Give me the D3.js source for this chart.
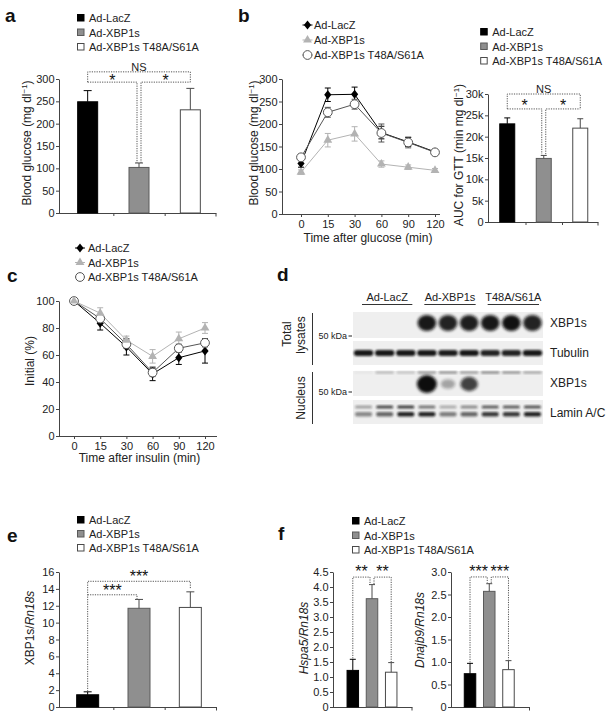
<!DOCTYPE html>
<html><head><meta charset="utf-8">
<script src="https://cdn.jsdelivr.net/npm/d3@7"></script>
<style>body{margin:0;background:#fff}</style></head><body>
<script>
// ---------------- DATA ----------------
const groups = ["Ad-LacZ", "Ad-XBP1s", "Ad-XBP1s T48A/S61A"];
// a: fasting blood glucose
const aMean = [249, 102, 231];
const aErr  = [25, 10, 48];
const aTicks = [0, 50, 100, 150, 200, 250, 300];
// b: GTT
const gttTimes = [0, 15, 30, 60, 90, 120];
const gttLacZ    = [112, 265, 266, 181, 160, 138];
const gttLacZErr = [8, 15, 16, 14, 10, 5];
const gttXbp     = [93, 164, 178, 111, 104, 97];
const gttXbpErr  = [5, 15, 16, 7, 5, 4];
const gttMut     = [126, 226, 244, 180, 159, 137];
const gttMutErr  = [5, 11, 11, 20, 12, 4];
const gttTicks = [0, 50, 100, 150, 200, 250, 300];
// b: AUC
const aucMean = [23000, 14900, 22000];
const aucErr  = [1400, 700, 2200];
const aucTicks = [0, 5000, 10000, 15000, 20000, 25000, 30000];
// c: ITT
const ittTimes = [0, 15, 30, 60, 90, 120];
const ittLacZ    = [100, 83.5, 66, 46, 58, 63];
const ittLacZErr = [0, 5, 6, 5, 5, 9];
const ittXbp     = [100, 91, 71, 59, 72, 80];
const ittXbpErr  = [0, 4, 3, 5, 5, 4];
const ittMut     = [100, 87, 68, 47, 65, 69];
const ittMutErr  = [0, 3, 3, 3, 3, 3];
const ittTicks = [0, 20, 40, 60, 80, 100];
// d: western blot (band intensities per lane)
const blotGroups = ["Ad-LacZ", "Ad-XBP1s", "T48A/S61A"];
const blotRowLabels = ["XBP1s", "Tubulin", "XBP1s", "Lamin A/C"];
const xbp1sTotal  = [0, 0, 0, 0.95, 0.9, 0.92, 0.95, 0.98, 0.9];
const tubulin     = [0.95, 0.95, 0.95, 0.95, 0.93, 0.95, 0.9, 0.9, 0.95];
const xbp1sNuc    = [0, 0, 0, 1, 0.3, 0.7, 0, 0, 0];
const nucTopBand  = [0.05, 0.3, 0.25, 0.45, 0.5, 0.45, 0.55, 0.5, 0.4];
const laminUpper  = [0.35, 0.75, 0.8, 0.55, 0.3, 0.45, 0.65, 0.65, 0.7];
const laminLower  = [0.45, 0.6, 0.9, 0.9, 0.5, 0.6, 0.8, 0.8, 0.9];
// e: XBP1s mRNA
const eMean = [1.45, 11.7, 11.8];
const eErr  = [0.35, 1.05, 1.85];
const eTicks = [0, 2, 4, 6, 8, 10, 12, 14, 16];
// f: target genes
const hspaMean = [1.22, 3.61, 1.16];
const hspaErr  = [0.37, 0.47, 0.32];
const hspaTicks = [0, 0.5, 1, 1.5, 2, 2.5, 3, 3.5, 4, 4.5];
const dnajMean = [0.74, 2.57, 0.83];
const dnajErr  = [0.23, 0.17, 0.2];
const dnajTicks = [0, 0.5, 1, 1.5, 2, 2.5, 3];

// ---------------- STYLE ----------------
const FONT = '"Liberation Sans", Arial, Helvetica, sans-serif';
const AX = "#444";
const barFill = ["#000000", "#8f8f8f", "#ffffff"];
const barStroke = ["#000000", "#5a5a5a", "#4a4a4a"];
const errColor = ["#000000", "#4a4a4a", "#4a4a4a"];
const BR = "#555";

const svg = d3.select("body").append("svg")
  .attr("width", 612).attr("height", 716)
  .style("font-family", FONT);

const defs = svg.append("defs");
[["b1", 0.8], ["b2", 1.6]].forEach(([id, s]) => {
  defs.append("filter").attr("id", id)
    .attr("x", "-50%").attr("y", "-50%").attr("width", "200%").attr("height", "200%")
    .append("feGaussianBlur").attr("stdDeviation", s);
});

function styleAxis(g) {
  g.attr("font-family", FONT).attr("font-size", 11);
  g.selectAll("path,line").attr("stroke", AX).attr("stroke-width", 1);
  g.selectAll("text").attr("fill", "#222");
}
function letter(t, x, y) {
  svg.append("text").attr("x", x).attr("y", y).attr("font-size", 19)
    .attr("font-weight", "bold").attr("fill", "#111").text(t);
}
function squareLegend(x, y0, dy) {
  const g = svg.append("g");
  groups.forEach((name, i) => {
    g.append("rect").attr("x", x - 3).attr("y", y0 + i * dy - 3.5)
      .attr("width", 6.5).attr("height", 6.5)
      .attr("fill", barFill[i]).attr("stroke", barStroke[i]);
    g.append("text").attr("x", x + 8.5).attr("y", y0 + i * dy + 4)
      .attr("font-size", 11).attr("fill", "#222").text(name);
  });
}
function yTitle(parts, cx, cy) {
  const t = svg.append("text")
    .attr("transform", `translate(${cx + 3.5},${cy}) rotate(-90)`)
    .attr("text-anchor", "middle").attr("font-size", 12).attr("fill", "#222");
  parts.forEach(p => {
    const s = t.append("tspan").text(p.t);
    if (p.i) s.attr("font-style", "italic");
    if (p.sup) s.attr("baseline-shift", "super").attr("font-size", 8);
  });
}

function barChart(o) {
  const y = d3.scaleLinear().domain(o.domain).range([o.yBottom, o.yTop]);
  const x = d3.scaleBand().domain(d3.range(o.means.length)).range(o.band);
  const cx = i => x(i) + x.bandwidth() / 2;
  const g = svg.append("g");
  const ya = g.append("g").attr("transform", `translate(${o.axisX},0)`)
    .call(d3.axisLeft(y).tickValues(o.ticks).tickFormat(o.fmt)
      .tickSize(3).tickPadding(1.5).tickSizeOuter(0));
  styleAxis(ya);
  const xs = d3.scaleLinear().domain([0, o.means.length]).range(o.band);
  const xa = g.append("g").attr("transform", `translate(0,${y(0)})`)
    .call(d3.axisBottom(xs).tickValues(o.xTicks).tickFormat("").tickSize(3).tickSizeOuter(0));
  xa.select(".domain").attr("d", `M${o.axisX},0.5H${o.axisEnd}`);
  xa.append("line").attr("x1", o.axisEnd - 0.5).attr("x2", o.axisEnd - 0.5)
    .attr("y1", 0.5).attr("y2", 3.5);
  styleAxis(xa);
  // bars
  g.selectAll("rect.bar").data(o.means).join("rect").attr("class", "bar")
    .attr("x", (d, i) => cx(i) - o.barW / 2).attr("y", d => y(d))
    .attr("width", o.barW).attr("height", d => y(0) - y(d))
    .attr("fill", (d, i) => barFill[i]).attr("stroke", (d, i) => barStroke[i]);
  // error bars
  o.means.forEach((m, i) => {
    const top = y(m + o.errs[i]);
    g.append("line").attr("x1", cx(i)).attr("x2", cx(i)).attr("y1", y(m)).attr("y2", top)
      .attr("stroke", errColor[i]);
    g.append("line").attr("x1", cx(i) - o.cap / 2).attr("x2", cx(i) + o.cap / 2)
      .attr("y1", top).attr("y2", top).attr("stroke", errColor[i]);
  });
  // significance brackets
  o.brackets.forEach(b => {
    const xi = cx(b.i) + (b.i === 1 ? 2 : 0);
    const xj = cx(b.j) - (b.j === 1 ? 2 : 0);
    const yt = y(b.top);
    g.append("path")
      .attr("d", `M${xi},${y(b.legI)}V${yt}H${xj}V${y(b.legJ)}`)
      .attr("fill", "none").attr("stroke", BR).attr("stroke-width", 1)
      .attr("stroke-dasharray", "1.2,1.2");
    const lx = (xi + xj) / 2;
    if (b.label === "NS") {
      g.append("text").attr("x", lx).attr("y", yt - 1).attr("text-anchor", "middle")
        .attr("font-size", 11).attr("fill", "#222").text("NS");
    } else {
      g.append("text").attr("x", lx).attr("y", yt - o.gap + 9).attr("text-anchor", "middle")
        .attr("font-size", 16).attr("fill", "#111").text(b.label);
    }
  });
}

function marker(g, type, x, y, color) {
  if (type === "diamond") {
    g.append("path").attr("d", "M0,-4.5L3.6,0L0,4.5L-3.6,0Z")
      .attr("transform", `translate(${x},${y})`).attr("fill", color);
  } else if (type === "triangle") {
    g.append("path").attr("d", d3.symbol(d3.symbolTriangle, 34)())
      .attr("transform", `translate(${x},${y})`).attr("fill", color);
  } else {
    g.append("circle").attr("cx", x).attr("cy", y).attr("r", 4.4)
      .attr("fill", "#fff").attr("stroke", color).attr("stroke-width", 1);
  }
}

function lineChart(o) {
  const x = d3.scalePoint().domain(o.times).range(o.xRange);
  const y = d3.scaleLinear().domain(o.domain).range([o.yBottom, o.yTop]);
  const g = svg.append("g");
  const ya = g.append("g").attr("transform", `translate(${o.axisX},0)`)
    .call(d3.axisLeft(y).tickValues(o.ticks).tickSize(3).tickPadding(1.5).tickSizeOuter(0));
  styleAxis(ya);
  const xa = g.append("g").attr("transform", `translate(0,${y(0)})`)
    .call(d3.axisBottom(x).tickSize(3).tickPadding(3).tickSizeOuter(0));
  xa.select(".domain").attr("d", `M${o.axisX},0.5H${o.axisEnd}`);
  styleAxis(xa);
  const line = d3.line().x((d, i) => x(o.times[i])).y(d => y(d));
  o.series.forEach(s => {
    g.append("path").attr("d", line(s.vals)).attr("fill", "none")
      .attr("stroke", s.color).attr("stroke-width", 1);
  });
  o.series.forEach(s => {
    s.vals.forEach((v, i) => {
      if (!s.errs[i]) return;
      const xx = x(o.times[i]), lo = y(v - s.errs[i]), hi = y(v + s.errs[i]);
      g.append("path").attr("d", `M${xx - 3},${hi}H${xx + 3}M${xx},${hi}V${lo}M${xx - 3},${lo}H${xx + 3}`)
        .attr("stroke", s.color).attr("fill", "none");
    });
  });
  o.series.forEach(s => s.vals.forEach((v, i) => marker(g, s.marker, x(o.times[i]), y(v), s.color)));
  svg.append("text").attr("x", (o.xRange[0] + o.xRange[1]) / 2).attr("y", o.titleY)
    .attr("text-anchor", "middle").attr("font-size", 12).attr("fill", "#222").text(o.xTitle);
}
function lineLegend(series, x, y0, dy, tx) {
  const g = svg.append("g");
  series.forEach((s, i) => {
    const yy = y0 + i * dy;
    g.append("line").attr("x1", x - 5).attr("x2", x + 5).attr("y1", yy).attr("y2", yy).attr("stroke", s.color);
    marker(g, s.marker, x, yy, s.color);
    g.append("text").attr("x", tx).attr("y", yy + 4).attr("font-size", 11).attr("fill", "#222").text(groups[i]);
  });
}

// ---------------- PANEL a ----------------
letter("a", 5, 22);
squareLegend(80.5, 18, 14.5);
barChart({
  domain: [0, 300], yBottom: 213, yTop: 79, axisX: 59, axisEnd: 216.5,
  band: [62, 216], xTicks: [1, 2], barW: 20, cap: 8, gap: 5,
  ticks: aTicks, fmt: d3.format("d"), means: aMean, errs: aErr,
  brackets: [
    { i: 0, j: 2, top: 316, legI: 293, legJ: 293, label: "NS" },
    { i: 0, j: 1, top: 293, legI: 293, legJ: 112, label: "*" },
    { i: 1, j: 2, top: 293, legI: 112, legJ: 293, label: "*" }
  ]
});
yTitle([{ t: "Blood glucose (mg dl" }, { t: "−1", sup: true }, { t: ")" }], 27, 143);

// ---------------- PANEL b (GTT) ----------------
letter("b", 238, 22);
const gttSeries = [
  { vals: gttLacZ, errs: gttLacZErr, color: "#000000", marker: "diamond" },
  { vals: gttXbp, errs: gttXbpErr, color: "#b3b3b3", marker: "triangle" },
  { vals: gttMut, errs: gttMutErr, color: "#555555", marker: "circle" }
];
lineLegend(gttSeries, 307.5, 25, 15, 314);
lineChart({
  times: gttTimes, xRange: [301, 435], domain: [0, 300], yBottom: 214, yTop: 79,
  axisX: 282, axisEnd: 440, ticks: gttTicks,
  series: [gttSeries[1], gttSeries[0], gttSeries[2]],
  xTitle: "Time after glucose (min)", titleY: 242
});
yTitle([{ t: "Blood glucose (mg dl" }, { t: "−1", sup: true }, { t: ")" }], 254.5, 143);

// AUC
squareLegend(483.7, 32, 14.5);
barChart({
  domain: [0, 30000], yBottom: 222, yTop: 94, axisX: 488, axisEnd: 598.5,
  band: [489, 598.5], xTicks: [1, 2], barW: 15, cap: 6, gap: 7,
  ticks: aucTicks, fmt: d => d === 0 ? "0" : (d / 1000) + "k", means: aucMean, errs: aucErr,
  brackets: [
    { i: 0, j: 2, top: 30000, legI: 26500, legJ: 26500, label: "NS" },
    { i: 0, j: 1, top: 26500, legI: 26500, legJ: 15900, label: "*" },
    { i: 1, j: 2, top: 26500, legI: 15900, legJ: 26500, label: "*" }
  ]
});
yTitle([{ t: "AUC for GTT (min mg dl" }, { t: "−1", sup: true }, { t: ")" }], 459.5, 155);

// ---------------- PANEL c (ITT) ----------------
letter("c", 7, 282);
const ittSeries = [
  { vals: ittLacZ, errs: ittLacZErr, color: "#000000", marker: "diamond" },
  { vals: ittXbp, errs: ittXbpErr, color: "#b3b3b3", marker: "triangle" },
  { vals: ittMut, errs: ittMutErr, color: "#555555", marker: "circle" }
];
lineLegend(ittSeries, 80, 248, 14.5, 88);
lineChart({
  times: ittTimes, xRange: [74, 205], domain: [0, 100], yBottom: 436, yTop: 301,
  axisX: 59, axisEnd: 217, ticks: ittTicks,
  series: [ittSeries[0], ittSeries[2], ittSeries[1]],
  xTitle: "Time after insulin (min)", titleY: 462
});
yTitle([{ t: "Initial (%)" }], 30, 361);

// ---------------- PANEL d (blot) ----------------
letter("d", 277, 281);
(function () {
  const g = svg.append("g");
  const lane = d3.scaleBand().domain(d3.range(9)).range([353, 543]);
  const lc = i => lane(i) + lane.bandwidth() / 2;
  const rows = [[312, 338], [341, 365], [371, 396], [400, 424]];
  rows.forEach(r => g.append("rect").attr("x", 353).attr("y", r[0]).attr("width", 190)
    .attr("height", r[1] - r[0]).attr("fill", "#efefef"));
  const ink = "#111";
  // row 0: XBP1s total
  g.selectAll(null).data(xbp1sTotal).join("ellipse")
    .attr("cx", (d, i) => lc(i)).attr("cy", 323).attr("rx", 9.3).attr("ry", 8)
    .attr("fill", ink).attr("opacity", d => d).attr("filter", "url(#b2)");
  // row 1: tubulin
  g.selectAll(null).data(tubulin).join("rect")
    .attr("x", (d, i) => lane(i) + 0.8).attr("y", 350).attr("width", lane.bandwidth() - 1.6)
    .attr("height", 6).attr("rx", 3).attr("fill", ink).attr("opacity", d => d).attr("filter", "url(#b1)");
  // row 2: XBP1s nucleus
  g.selectAll(null).data(nucTopBand).join("rect")
    .attr("x", (d, i) => lane(i) + 1.5).attr("y", 371.5).attr("width", lane.bandwidth() - 3)
    .attr("height", 2).attr("fill", ink).attr("opacity", d => d).attr("filter", "url(#b1)");
  g.selectAll(null).data(xbp1sNuc).join("ellipse")
    .attr("cx", (d, i) => lc(i)).attr("cy", 384).attr("rx", d => 6 + 4 * d).attr("ry", d => 3 + 6 * d)
    .attr("fill", ink).attr("opacity", d => Math.min(1, d * 1.1)).attr("filter", "url(#b2)");
  // row 3: Lamin A/C
  g.selectAll(null).data(laminUpper).join("rect")
    .attr("x", (d, i) => lane(i) + 2).attr("y", 405.5).attr("width", lane.bandwidth() - 4)
    .attr("height", 3).attr("rx", 1.5).attr("fill", ink).attr("opacity", d => d).attr("filter", "url(#b1)");
  g.selectAll(null).data(laminLower).join("rect")
    .attr("x", (d, i) => lane(i) + 2).attr("y", 412).attr("width", lane.bandwidth() - 4)
    .attr("height", 4.5).attr("rx", 2).attr("fill", ink).attr("opacity", d => d).attr("filter", "url(#b1)");
  // group labels
  blotGroups.forEach((name, k) => {
    const x0 = lane(k * 3) + 8 + (k === 0 ? 1 : 0), x1 = lane(k * 3 + 2) + lane.bandwidth() - 4;
    g.append("text").attr("x", (x0 + x1) / 2).attr("y", 301).attr("text-anchor", "middle")
      .attr("font-size", 11).attr("fill", "#222").text(name);
    g.append("line").attr("x1", x0).attr("x2", x1).attr("y1", 304.5).attr("y2", 304.5)
      .attr("stroke", "#333");
  });
  // row labels
  const labelY = [327, 357, 387, 417];
  blotRowLabels.forEach((t, k) => g.append("text").attr("x", 550).attr("y", labelY[k])
    .attr("font-size", 12).attr("fill", "#222").text(t));
  // size markers
  [339, 395].forEach(yy => {
    g.append("text").attr("x", 347).attr("y", yy).attr("text-anchor", "end")
      .attr("font-size", 9).attr("fill", "#222").text("50 kDa");
    g.append("line").attr("x1", 348.5).attr("x2", 352).attr("y1", yy - 3).attr("y2", yy - 3)
      .attr("stroke", "#222");
  });
  // fraction labels
  g.append("line").attr("x1", 312.5).attr("x2", 312.5).attr("y1", 313).attr("y2", 365).attr("stroke", "#333");
  g.append("line").attr("x1", 312.5).attr("x2", 312.5).attr("y1", 372).attr("y2", 424).attr("stroke", "#333");
  const rot = (t, x, y) => g.append("text").attr("transform", `translate(${x},${y}) rotate(-90)`)
    .attr("text-anchor", "middle").attr("font-size", 12).attr("fill", "#222").text(t);
  rot("Total", 291, 334);
  rot("lysates", 305, 335);
  rot("Nucleus", 305, 398);
})();

// ---------------- PANEL e ----------------
letter("e", 7, 542);
squareLegend(80.5, 520, 14);
barChart({
  domain: [0, 16], yBottom: 707, yTop: 572, axisX: 59, axisEnd: 217,
  band: [62, 216], xTicks: [1, 2], barW: 22, cap: 8, gap: 8,
  ticks: eTicks, fmt: d3.format("d"), means: eMean, errs: eErr,
  brackets: [
    { i: 0, j: 2, top: 14.9, legI: 1.85, legJ: 14.0, label: "***" },
    { i: 0, j: 1, top: 13.3, legI: 13.3, legJ: 12.8, label: "***" }
  ]
});
yTitle([{ t: "XBP1s/" }, { t: "Rn18s", i: true }], 30, 628);

// ---------------- PANEL f ----------------
letter("f", 278, 540);
squareLegend(355.5, 521, 14.5);
barChart({
  domain: [0, 4.5], yBottom: 707, yTop: 572, axisX: 333, axisEnd: 412.5,
  band: [343.2, 400.8], xTicks: [], barW: 11.5, cap: 6, gap: 9,
  ticks: hspaTicks, fmt: d => d === 0 ? "0" : d.toFixed(1), means: hspaMean, errs: hspaErr,
  brackets: [
    { i: 0, j: 1, top: 4.33, legI: 1.62, legJ: 4.1, label: "**" },
    { i: 1, j: 2, top: 4.33, legI: 4.1, legJ: 1.5, label: "**" }
  ]
});
yTitle([{ t: "Hspa5/Rn18s", i: true }], 304, 638);
barChart({
  domain: [0, 3], yBottom: 707, yTop: 572, axisX: 451, axisEnd: 530,
  band: [460.4, 518.1], xTicks: [], barW: 11.5, cap: 6, gap: 9,
  ticks: dnajTicks, fmt: d => d === 0 ? "0" : d.toFixed(1), means: dnajMean, errs: dnajErr,
  brackets: [
    { i: 0, j: 1, top: 2.89, legI: 0.99, legJ: 2.76, label: "***" },
    { i: 1, j: 2, top: 2.89, legI: 2.76, legJ: 1.05, label: "***" }
  ]
});
yTitle([{ t: "Dnajb9/Rn18s", i: true }], 420, 630);
</script>
</body></html>
